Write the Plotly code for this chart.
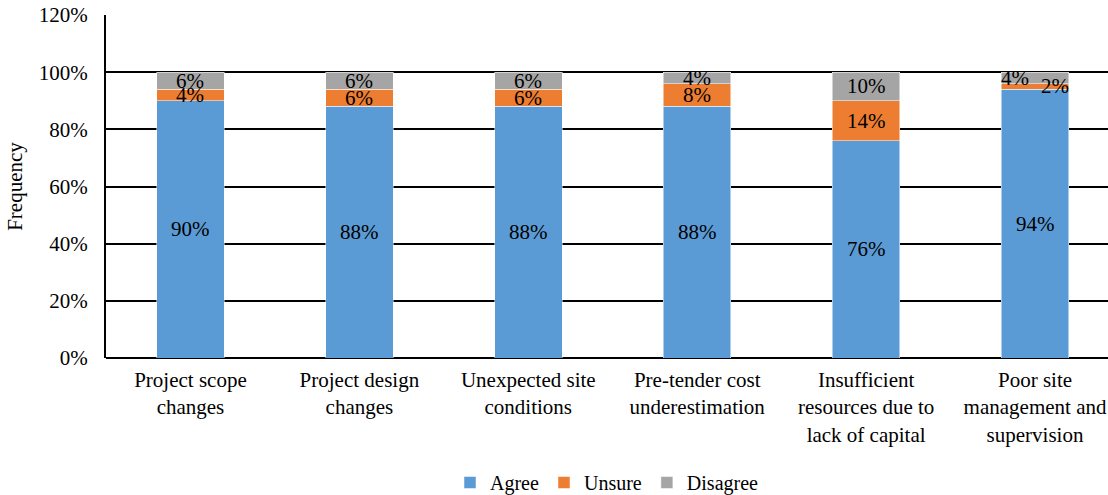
import plotly.graph_objects as go

categories = ["Project scope<br>changes", "Project design<br>changes", "Unexpected site<br>conditions",
              "Pre-tender cost<br>underestimation", "Insufficient<br>resources due to<br>lack of capital",
              "Poor site<br>management and<br>supervision"]
agree = [90, 88, 88, 88, 76, 94]
unsure = [4, 6, 6, 8, 14, 2]
disagree = [6, 6, 6, 4, 10, 4]
unsure_shift = [0, 0, 0, 0, 0, 20]
disagree_shift = [0, 0, 0, 0, 0, -20]

FONT = "Liberation Serif, Times New Roman, serif"
colors = {"Agree": "#5B9BD5", "Unsure": "#ED7D31", "Disagree": "#A5A5A5"}

fig = go.Figure()
xs = list(range(len(categories)))
for name, vals in [("Agree", agree), ("Unsure", unsure), ("Disagree", disagree)]:
    fig.add_trace(go.Bar(x=xs, y=vals, name=name, width=0.4,
                         marker=dict(color=colors[name], line=dict(color="white", width=0.5))))

for i in xs:
    fig.add_annotation(x=i, y=agree[i] / 2, text=f"{agree[i]}%", showarrow=False,
                       font=dict(family=FONT, size=21, color="black"))
    fig.add_annotation(x=i, y=agree[i] + unsure[i] / 2, text=f"{unsure[i]}%", showarrow=False,
                       xshift=unsure_shift[i], font=dict(family=FONT, size=21, color="black"))
    fig.add_annotation(x=i, y=agree[i] + unsure[i] + disagree[i] / 2, text=f"{disagree[i]}%",
                       showarrow=False, xshift=disagree_shift[i],
                       font=dict(family=FONT, size=21, color="black"))

fig.update_layout(
    barmode="stack", width=1108, height=495,
    margin=dict(l=106, r=0, t=15, b=137, autoexpand=False),
    plot_bgcolor="white", paper_bgcolor="white",
    font=dict(family=FONT, size=21, color="black"),
    legend=dict(orientation="h", x=0.5, xanchor="center", xref="paper", y=-0.363, yanchor="middle",
                font=dict(family=FONT, size=20), itemwidth=30, traceorder="normal"),
    xaxis=dict(tickmode="array", tickvals=xs, ticktext=categories, range=[-0.5, 5.432],
               showgrid=False, showline=False, ticks="", ticklabelstandoff=7, automargin=False,
               tickfont=dict(family=FONT, size=21)),
    yaxis=dict(range=[0, 120], tickvals=[0, 20, 40, 60, 80, 100, 120],
               ticktext=["0%", "20%", "40%", "60%", "80%", "100%", "120%"],
               showgrid=True, gridcolor="black", gridwidth=1.5, zeroline=True, zerolinecolor="black",
               zerolinewidth=2, showline=True, linecolor="black", linewidth=2, ticks="",
               ticklabelstandoff=12, tickfont=dict(family=FONT, size=21), automargin=False,
               title=dict(text="Frequency", font=dict(family=FONT, size=21), standoff=10)),
)
fig.write_html("out.html")
